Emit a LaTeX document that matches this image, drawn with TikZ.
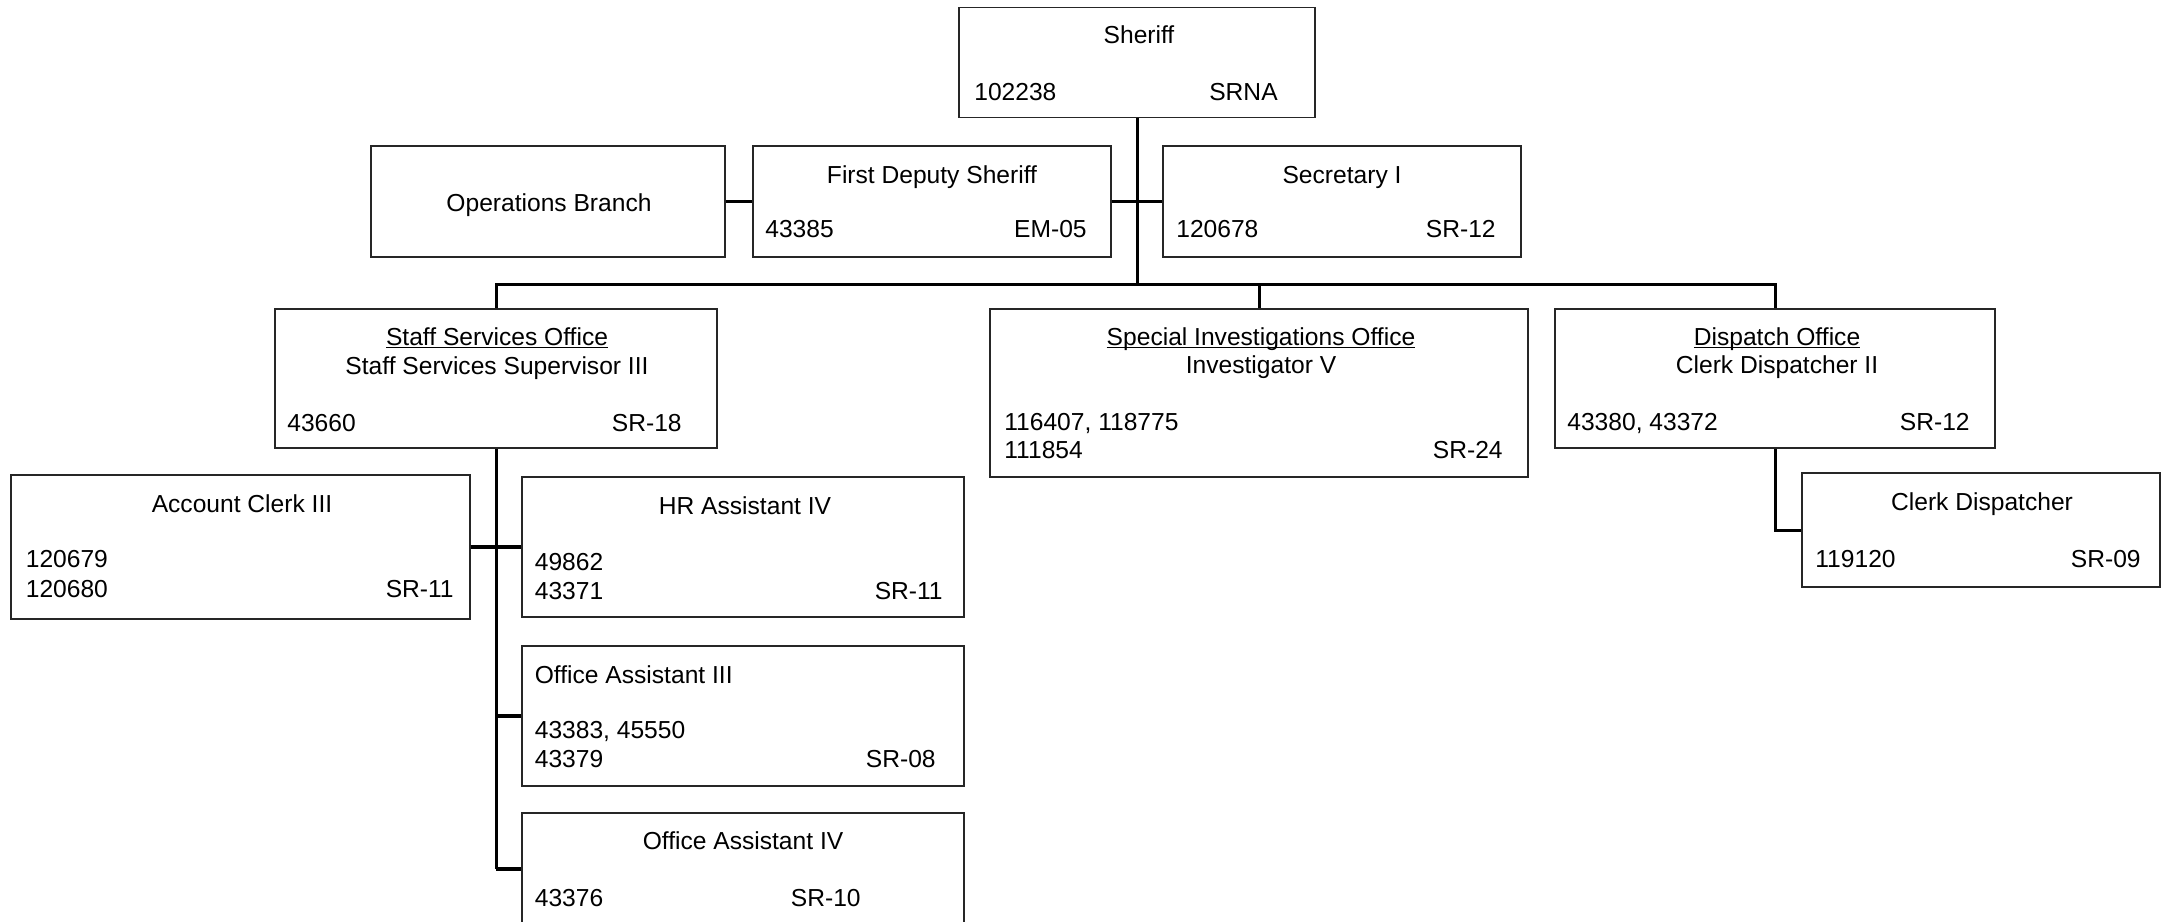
\documentclass[tikz,border=0pt]{standalone}
\usepackage{fontspec}
\setmainfont{Liberation Sans}
\usetikzlibrary{calc}

\newcommand{\officeName}[1]{\underline{\smash{#1}}}

\begin{document}
\begin{tikzpicture}[x=0.02cm, y=-0.02cm,
	orgbox/.style={draw=black!85, line width=0.7pt, rectangle, inner sep=0pt},
	txt/.style={inner sep=0pt, font=\fontsize{14}{16.8}\selectfont},
	link/.style={line width=1.7pt},
	stub/.style={line width=1.9pt}]

	% frame
	\useasboundingbox (0,0) rectangle (2166,921);
	\clip (0,0) rectangle (2166,921);

	% Sheriff
	\node [orgbox, minimum width=7.12cm, minimum height=2.2cm] (sheriff) at (1137,62.5) {};
	\node [txt, anchor=base] (sheriffTitle) at (1139,43) {Sheriff};
	\node [txt, anchor=base west] (sheriffNum) at (974,100) {102238};
	\node [txt, anchor=base east] (sheriffGrade) at (1278,100) {SRNA};

	% second row
	\node [orgbox, minimum width=7.08cm, minimum height=2.22cm] (ops) at (548,201.5) {};
	\node [txt, anchor=base] (opsTitle) at (549,211) {Operations Branch};

	\node [orgbox, minimum width=7.16cm, minimum height=2.22cm] (deputy) at (932,201.5) {};
	\node [txt, anchor=base] (deputyTitle) at (932,183) {First Deputy Sheriff};
	\node [txt, anchor=base west] (deputyNum) at (765,237) {43385};
	\node [txt, anchor=base east] (deputyGrade) at (1087,237) {EM-05};

	\node [orgbox, minimum width=7.16cm, minimum height=2.22cm] (secretary) at (1342,201.5) {};
	\node [txt, anchor=base] (secretaryTitle) at (1342,183) {Secretary I};
	\node [txt, anchor=base west] (secretaryNum) at (1176,237) {120678};
	\node [txt, anchor=base east] (secretaryGrade) at (1496,237) {SR-12};

	% offices
	\node [orgbox, minimum width=8.84cm, minimum height=2.78cm] (staff) at (496,378.5) {};
	\node [txt, anchor=base] (staffTitle) at (497,345) {\officeName{Staff Services Office}};
	\node [txt, anchor=base] (staffRole) at (497,374) {Staff Services Supervisor III};
	\node [txt, anchor=base west] (staffNum) at (287,431) {43660};
	\node [txt, anchor=base east] (staffGrade) at (682,431) {SR-18};

	\node [orgbox, minimum width=10.76cm, minimum height=3.36cm] (special) at (1259,393) {};
	\node [txt, anchor=base] (specialTitle) at (1261,345) {\officeName{Special Investigations Office}};
	\node [txt, anchor=base] (specialRole) at (1261,373) {Investigator V};
	\node [txt, anchor=base west] (specialNumA) at (1004,430) {116407, 118775};
	\node [txt, anchor=base west] (specialNumB) at (1004,458) {111854};
	\node [txt, anchor=base east] (specialGrade) at (1503,458) {SR-24};

	\node [orgbox, minimum width=8.8cm, minimum height=2.78cm] (dispatch) at (1775,378.5) {};
	\node [txt, anchor=base] (dispatchTitle) at (1777,345) {\officeName{Dispatch Office}};
	\node [txt, anchor=base] (dispatchRole) at (1777,373) {Clerk Dispatcher II};
	\node [txt, anchor=base west] (dispatchNum) at (1567,430) {43380, 43372};
	\node [txt, anchor=base east] (dispatchGrade) at (1970,430) {SR-12};

	% staff services units
	\node [orgbox, minimum width=9.18cm, minimum height=2.88cm] (account) at (240.5,547) {};
	\node [txt, anchor=base] (accountTitle) at (242,512) {Account Clerk III};
	\node [txt, anchor=base west] (accountNumA) at (25.5,567) {120679};
	\node [txt, anchor=base west] (accountNumB) at (25.5,597) {120680};
	\node [txt, anchor=base east] (accountGrade) at (454,597) {SR-11};

	\node [orgbox, minimum width=8.84cm, minimum height=2.8cm] (hr) at (743,547) {};
	\node [txt, anchor=base] (hrTitle) at (745,514) {HR Assistant IV};
	\node [txt, anchor=base west] (hrNumA) at (534.5,570) {49862};
	\node [txt, anchor=base west] (hrNumB) at (534.5,599) {43371};
	\node [txt, anchor=base east] (hrGrade) at (943,599) {SR-11};

	\node [orgbox, minimum width=8.84cm, minimum height=2.8cm] (oaThree) at (743,716) {};
	\node [txt, anchor=base west] (oaThreeTitle) at (534.5,683) {Office Assistant III};
	\node [txt, anchor=base west] (oaThreeNumA) at (534.5,738) {43383, 45550};
	\node [txt, anchor=base west] (oaThreeNumB) at (534.5,767) {43379};
	\node [txt, anchor=base east] (oaThreeGrade) at (936,767) {SR-08};

	\node [orgbox, minimum width=8.84cm, minimum height=2.24cm] (oaFour) at (743,869) {};
	\node [txt, anchor=base] (oaFourTitle) at (743,849) {Office Assistant IV};
	\node [txt, anchor=base west] (oaFourNum) at (534.5,906) {43376};
	\node [txt, anchor=base east] (oaFourGrade) at (861,906) {SR-10};

	% dispatch unit
	\node [orgbox, minimum width=7.16cm, minimum height=2.28cm] (clerk) at (1981,530) {};
	\node [txt, anchor=base] (clerkTitle) at (1982,510) {Clerk Dispatcher};
	\node [txt, anchor=base west] (clerkNum) at (1815,567) {119120};
	\node [txt, anchor=base east] (clerkGrade) at (2141,567) {SR-09};

	% connectors
	\coordinate (busLevel) at (0,284);
	\coordinate (bus) at (sheriff.south |- busLevel);
	\draw [link] (sheriff.south) -- (bus);
	\draw [link] (staff.north) |- (bus) -| (dispatch.north);
	\draw [link] (special.north) -- (special.north |- bus);
	\draw [stub] (ops.east) -- (deputy.west);
	\draw [stub] (deputy.east) -- (secretary.west);

	\coordinate (staffEnd) at (staff.south |- oaFour.west);
	\draw [link] (staff.south) -- (staffEnd);
	\draw [stub] (account.east) -- (hr.west);
	\draw [stub] (staff.south |- oaThree.west) -- (oaThree.west);
	\draw [stub] (staffEnd) -- (oaFour.west);

	\draw [link] (dispatch.south) |- (clerk.west);

\end{tikzpicture}
\end{document}
